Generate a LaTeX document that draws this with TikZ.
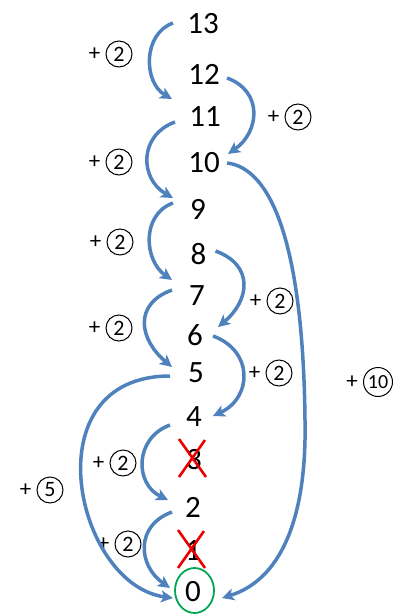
\documentclass[tikz,border=0pt]{standalone}
\usepackage{fontspec}
\setmainfont{Carlito}
\usetikzlibrary{positioning,arrows.meta,calc}
\definecolor{hopblue}{RGB}{79,129,189}
\definecolor{ringgreen}{RGB}{0,166,80}
\definecolor{crossred}{RGB}{235,0,0}

\begin{document}
\begin{tikzpicture}[x=1pt,y=1pt,
    num/.style={inner sep=0pt, font=\fontsize{31}{31}\selectfont},
    hop/.style={draw, circle, minimum size=26pt, inner sep=0pt, line width=1pt,
        font=\fontsize{22}{22}\selectfont,
        label={[inner sep=0pt, font=\fontsize{23}{23}\selectfont, label distance=5pt]left:+}},
    jump/.style={hopblue, line width=3.5pt, -{Stealth[length=12pt,width=12pt,inset=3pt]}},
    cross/.style={crossred, line width=2.6pt},
    ring/.style={ringgreen, line width=1.8pt}]
    \useasboundingbox (0,0) rectangle (406,-615);

    % The numbers
    \node[num] (n13) at (203,-24) {13};
    \node[num] (n12) at (204,-74) {12};
    \node[num] (n11) at (205,-117) {11};
    \node[num] (n10) at (204,-163) {10};
    \node[num] (n9) at (198,-209) {9};
    \node[num] (n8) at (198.5,-254) {8};
    \node[num] (n7) at (197,-296) {7};
    \node[num] (n6) at (195,-335) {6};
    \node[num] (n5) at (196,-373) {5};
    \node[num] (n4) at (194,-417) {4};
    \node[num] (n3) at (194,-460) {3};
    \node[num] (n2) at (193,-507) {2};
    \node[num] (n1) at (193,-551) {1};
    \node[num] (n0) at (193,-592) {0};

    % Step labels
    \node[hop] (hop13) at (119,-54) {2};
    \node[hop] (hop12) at (298,-117) {2};
    \node[hop] (hop11) at (119,-162) {2};
    \node[hop] (hop9) at (120,-242) {2};
    \node[hop] (hop8) at (280,-301) {2};
    \node[hop] (hop7) at (119,-328) {2};
    \node[hop] (hop6) at (279,-373) {2};
    \node[hop] (hop4) at (123,-463) {2};
    \node[hop] (hop2) at (128,-544) {2};
    \node[hop] (hop5) at (50,-490) {5};
    \node[hop, minimum size=29pt, font=\fontsize{20}{20}\selectfont] (hop10) at (378,-382) {10};

    % Steps of two on the left
    \draw[jump] ($(n13)+(-30,1)$) to[out=200,in=150,looseness=1.1] ($(n11)+(-33,18)$);
    \draw[jump] ($(n11)+(-30,-5)$) to[out=200,in=150,looseness=1.3] ($(n9)+(-25,11)$);
    \draw[jump] ($(n9)+(-25,6)$) to[out=200,in=145,looseness=1.13] ($(n7)+(-25,16)$);
    \draw[jump] ($(n7)+(-25,6)$) to[out=200,in=140,looseness=1.4] ($(n5)+(-24,6)$);
    \draw[jump] ($(n4)+(-24,-8)$) to[out=200,in=154,looseness=1.28] ($(n2)+(-25,7)$);
    \draw[jump] ($(n2)+(-21,-5)$) to[out=200,in=145,looseness=1.32] ($(n0)+(-23,4)$);

    % Steps of two on the right
    \draw[jump] ($(n12)+(23,-4)$) to[out=-20,in=35,looseness=1.3] ($(n10)+(24,9)$);
    \draw[jump] ($(n8)+(17,3)$) to[out=-20,in=40,looseness=1.39] ($(n6)+(23,8)$);
    \draw[jump] ($(n6)+(18,-1)$) to[out=-20,in=25,looseness=1.39] ($(n4)+(19,1)$);

    % Long jumps
    \draw[jump] ($(n5)+(-26,-3)$) .. controls (30,-376) and (75,-585) .. ($(n0)+(-20,-6)$);
    \draw[jump] ($(n10)+(23,0)$) .. controls (270,-168) and (303,-240) .. (305,-420)
        .. controls (307,-520) and (280,-580) .. ($(n0)+(29,-6)$);

    % Struck-out numbers
    \foreach \k in {n3,n1}
        \draw[cross] ($(\k)+(-15,21)$) -- ($(\k)+(12,-17)$)
                     ($(\k)+(11,20)$) -- ($(\k)+(-15,-17)$);

    % Target
    \draw[ring] ($(n0)+(1.5,1.5)$) ellipse [x radius=19.5, y radius=22.5];
\end{tikzpicture}
\end{document}
